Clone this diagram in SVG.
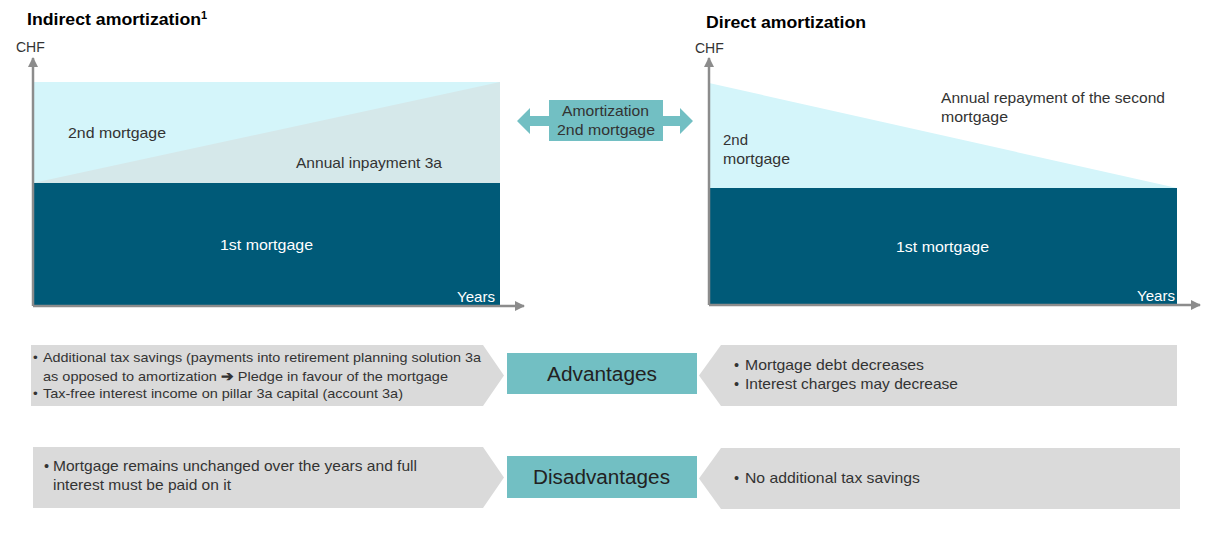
<svg xmlns="http://www.w3.org/2000/svg" width="1205" height="556" viewBox="0 0 1205 556">
<defs>
<style>
text{font-family:"Liberation Sans",Arial,sans-serif;fill:#222;}
.title{font-size:17px;font-weight:bold;fill:#000;}
.ax{font-size:14px;fill:#333;}
.lbl{font-size:15px;fill:#333;}
.wlbl{font-size:15px;fill:#fff;}
.bul{font-size:13.5px;fill:#333;}
.bul2{font-size:14.5px;fill:#333;}
.big{font-size:20px;fill:#222;}
.axis{stroke:#8c8c8c;stroke-width:2.5;fill:none;}
.dark{fill:#005a78;}
.light{fill:#d4f5fa;}
.tri{fill:#d5e8ea;}
.teal{fill:#72bfc3;}
.grey{fill:#dadada;}
</style>
<marker id="ah" viewBox="0 0 10 10" refX="9" refY="5" markerWidth="4" markerHeight="4" orient="auto" markerUnits="strokeWidth">
<path d="M0,0 L10,5 L0,10 z" fill="#8c8c8c"/>
</marker>
</defs>
<rect width="1205" height="556" fill="#fff"/>

<g id="chart-indirect">
<text class="title" x="27" y="25"><tspan textLength="174" lengthAdjust="spacingAndGlyphs">Indirect amortization</tspan><tspan font-size="11" dy="-6">1</tspan></text>
<text class="ax" x="16" y="52">CHF</text>
<rect class="light" x="33" y="82" width="467" height="101"/>
<polygon class="tri" points="33,183 500,82 500,183"/>
<rect class="dark" x="33" y="183" width="467" height="122"/>
<text class="lbl" x="68" y="138" textLength="98" lengthAdjust="spacingAndGlyphs">2nd mortgage</text>
<text class="lbl" x="296" y="168" textLength="146" lengthAdjust="spacingAndGlyphs">Annual inpayment 3a</text>
<text class="wlbl" x="220" y="250" textLength="93" lengthAdjust="spacingAndGlyphs">1st mortgage</text>
<text class="wlbl" x="457" y="302" textLength="38" lengthAdjust="spacingAndGlyphs">Years</text>
<line class="axis" x1="33" y1="306" x2="33" y2="58" marker-end="url(#ah)"/>
<line class="axis" x1="33" y1="306" x2="524" y2="306" marker-end="url(#ah)"/>
</g>

<g id="chart-direct">
<text class="title" x="706" y="28" textLength="160" lengthAdjust="spacingAndGlyphs">Direct amortization</text>
<text class="ax" x="695" y="53">CHF</text>
<polygon class="light" points="709,83 1177,188 709,188"/>
<rect class="dark" x="709" y="188" width="468" height="117"/>
<text class="lbl" x="723" y="145" textLength="25" lengthAdjust="spacingAndGlyphs">2nd</text>
<text class="lbl" x="723" y="164" textLength="67" lengthAdjust="spacingAndGlyphs">mortgage</text>
<text class="lbl" x="941" y="103" textLength="224" lengthAdjust="spacingAndGlyphs">Annual repayment of the second</text>
<text class="lbl" x="941" y="122" textLength="67" lengthAdjust="spacingAndGlyphs">mortgage</text>
<text class="wlbl" x="896" y="252" textLength="93" lengthAdjust="spacingAndGlyphs">1st mortgage</text>
<text class="wlbl" x="1137" y="301" textLength="38" lengthAdjust="spacingAndGlyphs">Years</text>
<line class="axis" x1="709" y1="305" x2="709" y2="58" marker-end="url(#ah)"/>
<line class="axis" x1="709" y1="305" x2="1200" y2="305" marker-end="url(#ah)"/>
</g>

<g id="connectors">
<polygon class="teal" points="517,121 530,108 530,116 680,116 680,108 693,121 680,134 680,126 530,126 530,134"/>
</g>

<g id="amortization-box">
<rect class="teal" x="549" y="100" width="114" height="41"/>
<text class="lbl" x="562" y="116" textLength="87" lengthAdjust="spacingAndGlyphs">Amortization</text>
<text class="lbl" x="557" y="135" textLength="98" lengthAdjust="spacingAndGlyphs">2nd mortgage</text>
</g>

<g id="adv-indirect">
<polygon class="grey" points="31,345 483,345 504,375.5 483,406 31,406"/>
<text class="bul" x="33" y="362">•</text>
<text class="bul" x="43" y="362" textLength="438" lengthAdjust="spacingAndGlyphs">Additional tax savings (payments into retirement planning solution 3a</text>
<text class="bul" x="43" y="381" textLength="405" lengthAdjust="spacingAndGlyphs">as opposed to amortization <tspan font-weight="bold">➔</tspan> Pledge in favour of the mortgage</text>
<text class="bul" x="33" y="398">•</text>
<text class="bul" x="43" y="398" textLength="360" lengthAdjust="spacingAndGlyphs">Tax-free interest income on pillar 3a capital (account 3a)</text>
</g>

<g id="advantages">
<rect class="teal" x="507" y="353" width="190" height="41"/>
<text class="big" x="547" y="381" textLength="110" lengthAdjust="spacingAndGlyphs">Advantages</text>
</g>

<g id="adv-direct">
<polygon class="grey" points="721,345 1177,345 1177,406 721,406 699,375.5"/>
<text class="bul2" x="734" y="370">•</text>
<text class="bul2" x="745" y="370" textLength="179" lengthAdjust="spacingAndGlyphs">Mortgage debt decreases</text>
<text class="bul2" x="734" y="389">•</text>
<text class="bul2" x="745" y="389" textLength="213" lengthAdjust="spacingAndGlyphs">Interest charges may decrease</text>
</g>

<g id="dis-indirect">
<polygon class="grey" points="33,447 483,447 504,477.5 483,508 33,508"/>
<text class="bul2" x="44" y="471">•</text>
<text class="bul2" x="53" y="471" textLength="364" lengthAdjust="spacingAndGlyphs">Mortgage remains unchanged over the years and full</text>
<text class="bul2" x="53" y="490" textLength="178" lengthAdjust="spacingAndGlyphs">interest must be paid on it</text>
</g>

<g id="disadvantages">
<rect class="teal" x="507" y="456" width="190" height="42"/>
<text class="big" x="533" y="484" textLength="137" lengthAdjust="spacingAndGlyphs">Disadvantages</text>
</g>

<g id="dis-direct">
<polygon class="grey" points="721,448 1180,448 1180,509 721,509 699,478.5"/>
<text class="bul2" x="734" y="483">•</text>
<text class="bul2" x="745" y="483" textLength="175" lengthAdjust="spacingAndGlyphs">No additional tax savings</text>
</g>
</svg>
